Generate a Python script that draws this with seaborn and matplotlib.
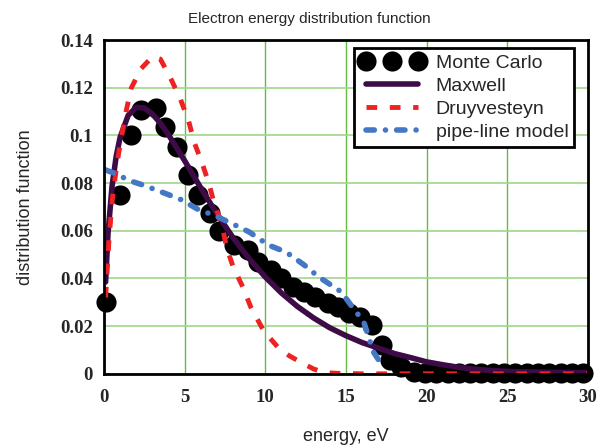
import matplotlib
matplotlib.use("Agg")
import matplotlib.pyplot as plt
import seaborn as sns

# Monte Carlo points
mc_E = [0.1, 1.0, 1.7, 2.3, 3.2, 3.8, 4.5, 5.2, 5.85, 6.6, 7.15, 8.07, 8.93, 9.55,
        10.35, 10.97, 11.7, 12.4, 13.1, 13.9, 14.5, 15.2, 15.9, 16.6, 17.25, 17.75,
        18.4, 19.2, 19.9, 20.6, 21.3, 22.0, 22.7, 23.4, 24.1, 24.8, 25.5, 26.2,
        26.9, 27.6, 28.3, 29.0, 29.7]
mc_f = [0.030, 0.075, 0.100, 0.1107, 0.1115, 0.1035, 0.095, 0.0834, 0.075, 0.0675,
        0.060, 0.054, 0.052, 0.047, 0.0436, 0.040, 0.0365, 0.0344, 0.0323, 0.0298,
        0.028, 0.0256, 0.0239, 0.0205, 0.0122, 0.0059, 0.0029, 0.0008, 0.0003,
        0.0002, 0.0002, 0.0002, 0.0002, 0.0002, 0.0002, 0.0002, 0.0002, 0.0002,
        0.0002, 0.0002, 0.0002, 0.0002, 0.0002]

# Maxwell
mx_E = [0.1, 0.25, 0.5, 0.75, 1, 1.5, 2, 2.5, 3, 3.5, 4, 5, 6, 7, 8, 9, 10, 11, 12,
        13, 14, 15, 16, 17, 18, 19, 20, 21, 22, 23, 24, 25, 26, 27, 28, 29, 30]
mx_f = [0.0385, 0.0588, 0.0786, 0.0909, 0.0992, 0.1084, 0.1118, 0.1115, 0.1090,
        0.1051, 0.1003, 0.0894, 0.0780, 0.0671, 0.0571, 0.0483, 0.0406, 0.0339,
        0.0282, 0.0234, 0.0193, 0.0160, 0.0131, 0.0108, 0.0085, 0.0068, 0.0050,
        0.0038, 0.0027, 0.0019, 0.0014, 0.0010, 0.0008, 0.0007, 0.0006, 0.0005,
        0.0005]

# Druyvesteyn
dr_E = [0.1, 0.3, 0.5, 0.8, 1.1, 1.4, 1.7, 2.3, 3.0, 3.5, 4.2, 4.75, 5.25, 5.6, 6.1,
        6.5, 6.85, 7.3, 7.6, 8.0, 8.6, 9.1, 9.9, 10.8, 11.5, 12.3, 13.0, 13.7, 14.5,
        16, 20, 25, 30]
dr_f = [0.032, 0.055, 0.072, 0.088, 0.100, 0.111, 0.120, 0.128, 0.133, 0.132, 0.123,
        0.115, 0.106, 0.097, 0.088, 0.080, 0.071, 0.063, 0.053, 0.045, 0.0365,
        0.028, 0.018, 0.011, 0.0075, 0.0045, 0.002, 0.0005, 0.0002, 0.0, 0.0, 0.0,
        0.0]

# pipe-line model
pl_E = [0.1, 0.7, 1.6, 2.5, 3.9, 4.8, 5.9, 6.8, 8.0, 9.0, 10.2, 11.3, 12.4, 13.3,
        14.7, 15.4, 16.1, 16.7, 17.2]
pl_f = [0.0855, 0.084, 0.081, 0.079, 0.0754, 0.073, 0.0687, 0.0666, 0.0628, 0.0595,
        0.054, 0.051, 0.0457, 0.0407, 0.0344, 0.028, 0.0218, 0.0092, 0.004]

xticks = [0, 5, 10, 15, 20, 25, 30]
yticks = [0, 0.02, 0.04, 0.06, 0.08, 0.1, 0.12, 0.14]
ylabels = ["0", "0.02", "0.04", "0.06", "0.08", "0.1", "0.12", "0.14"]

sns.set_style("white")
plt.rcParams['font.family'] = ['Liberation Sans', 'DejaVu Sans']

fig = plt.figure(figsize=(6.08, 4.45), dpi=100)
ax = fig.add_axes([0.171, 0.160, 0.796, 0.750])

sns.lineplot(x=mc_E, y=mc_f, ax=ax, color="black", marker="o", linestyle="",
             markersize=14.5, markeredgewidth=0, clip_on=False, label="Monte Carlo")
sns.lineplot(x=mx_E, y=mx_f, ax=ax, color="#3d0b45", linewidth=4,
             label="Maxwell")
sns.lineplot(x=dr_E, y=dr_f, ax=ax, color="#ee2222", linewidth=3.5,
             linestyle=(0, (2.2, 2.6)), label="Druyvesteyn")
sns.lineplot(x=pl_E, y=pl_f, ax=ax, color="#4477c4", linewidth=4,
             linestyle=(0, (1.5, 2.0, 0.01, 2.0)), dash_capstyle="round",
             label="pipe-line model")

ax.set_xlim(0, 30)
ax.set_ylim(0, 0.14)
ax.set_xticks(xticks)
ax.set_xticklabels([str(t) for t in xticks])
ax.set_yticks(yticks)
ax.set_yticklabels(ylabels)
for lab in ax.get_xticklabels() + ax.get_yticklabels():
    lab.set_family(['Liberation Serif', 'DejaVu Serif'])
    lab.set_fontweight("bold")
    lab.set_fontsize(13.5)
ax.tick_params(axis="both", length=0)
ax.tick_params(axis="y", pad=8)
ax.tick_params(axis="x", pad=11)

ax.xaxis.grid(True, color="#66bb44", linewidth=1)
ax.yaxis.grid(True, color="#9fd68c", linewidth=1.2)
ax.set_axisbelow(True)
for s in ax.spines.values():
    s.set_color("black")
    s.set_linewidth(2)

ax.set_xlabel("energy, eV", fontsize=13, labelpad=16)
ax.set_ylabel("distribution function", fontsize=13, labelpad=19)
fig.text(0.508, 0.958, "Electron energy distribution function", fontsize=11,
         ha="center", va="center")

leg = ax.legend(loc="upper left", bbox_to_anchor=(0.582, 0.892),
                bbox_transform=fig.transFigure, numpoints=3, fontsize=14,
                frameon=True, fancybox=False, borderaxespad=0, borderpad=0.3,
                labelspacing=0.28, handlelength=3.3, handletextpad=0.6)
leg.get_frame().set_edgecolor("black")
leg.get_frame().set_linewidth(2)
leg.get_frame().set_alpha(1)

fig.savefig("out.png", dpi=100)
